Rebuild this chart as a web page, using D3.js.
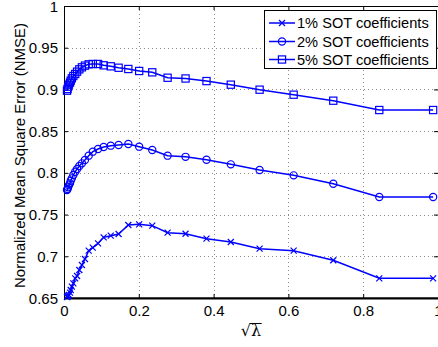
<!DOCTYPE html>
<html>
<head>
<meta charset="utf-8">
<script src="https://cdn.jsdelivr.net/npm/d3@7"></script>
<style>
  html, body { margin: 0; padding: 0; background: #fff; }
  svg { display: block; }
  text { font-family: "Liberation Sans", Arial, sans-serif; fill: #000; }
</style>
</head>
<body>
<svg id="chart" width="438" height="347"></svg>
<script>
// sqrt(lambda) sample positions, shared by all three curves
const sqrtLambda = [0.987, 0.843, 0.72, 0.614, 0.523, 0.446, 0.381, 0.325, 0.277, 0.236,
  0.201, 0.172, 0.146, 0.125, 0.106, 0.091, 0.077, 0.066, 0.056, 0.048,
  0.041, 0.035, 0.030, 0.025, 0.021, 0.018, 0.016, 0.013, 0.011, 0.0095, 0.008];

const nmse1 = [0.6736, 0.6736, 0.6952, 0.7067, 0.7091, 0.7171, 0.7211, 0.7270, 0.7283, 0.7367,
  0.7383, 0.7375, 0.7267, 0.7247, 0.7227, 0.7155, 0.7103, 0.7067, 0.6967, 0.6895,
  0.6836, 0.6764, 0.6736, 0.6676, 0.6636, 0.6596, 0.6564, 0.6536, 0.6525, 0.6520, 0.6510];

const nmse2 = [0.7711, 0.7711, 0.7870, 0.7970, 0.8034, 0.8102, 0.8158, 0.8192, 0.8206, 0.8274,
  0.8314, 0.8346, 0.8334, 0.8326, 0.8310, 0.8286, 0.8254, 0.8206, 0.8154, 0.8114,
  0.8082, 0.8046, 0.8014, 0.7974, 0.7934, 0.7906, 0.7874, 0.7850, 0.7826, 0.7806, 0.7794];

const nmse5 = [0.8753, 0.8753, 0.8865, 0.8937, 0.8997, 0.9057, 0.9100, 0.9131, 0.9140, 0.9205,
  0.9221, 0.9245, 0.9260, 0.9277, 0.9289, 0.9305, 0.9305, 0.9301, 0.9285, 0.9265,
  0.9241, 0.9213, 0.9185, 0.9161, 0.9133, 0.9105, 0.9081, 0.9057, 0.9033, 0.9005, 0.8985];

const seriesNames = ["1% SOT coefficients", "2% SOT coefficients", "5% SOT coefficients"];
const seriesMarkers = ["x", "circle", "square"];
const xTicks = [0, 0.2, 0.4, 0.6, 0.8, 1];
const yTicks = [0.65, 0.7, 0.75, 0.8, 0.85, 0.9, 0.95, 1];

const series = [nmse1, nmse2, nmse5].map((vals, i) => ({
  name: seriesNames[i],
  marker: seriesMarkers[i],
  points: vals.map((v, j) => ({ x: sqrtLambda[j], y: v }))
}));

const blue = "#0000ff";
const svg = d3.select("#chart");
const m = { left: 64, right: 438, top: 6, bottom: 298 };

const x = d3.scaleLinear().domain([0, 1]).range([m.left, m.right]);
const y = d3.scaleLinear().domain([0.65, 1]).range([m.bottom, m.top]);

// dotted grid
const grid = svg.append("g").attr("stroke", "#8c8c8c").attr("stroke-width", 1)
  .attr("stroke-dasharray", "1,3");
xTicks.slice(1, -1).forEach(t => {
  grid.append("line").attr("x1", Math.round(x(t)) + 0.5).attr("x2", Math.round(x(t)) + 0.5)
    .attr("y1", m.top).attr("y2", m.bottom);
});
yTicks.slice(1, -1).forEach(t => {
  grid.append("line").attr("y1", Math.round(y(t)) + 0.5).attr("y2", Math.round(y(t)) + 0.5)
    .attr("x1", m.left).attr("x2", m.right);
});

// axes: labels outside, short ticks pointing inwards on all four sides
const fmt = d => (d === 0 || d === 1) ? String(d) : String(+d.toFixed(2));
const tickLen = 4;
const xAxis = d3.axisBottom(x).tickValues(xTicks).tickFormat(fmt).tickSize(-tickLen).tickPadding(7);
const yAxis = d3.axisLeft(y).tickValues(yTicks).tickFormat(fmt).tickSize(-tickLen).tickPadding(6);
const xTop = d3.axisTop(x).tickValues(xTicks).tickFormat("").tickSize(-tickLen);
const yRight = d3.axisRight(y).tickValues(yTicks).tickFormat("").tickSize(-tickLen);

function styleAxis(g) {
  g.select(".domain").remove();
  g.selectAll(".tick line").attr("stroke", "#000");
  g.selectAll(".tick text").style("font-size", "15px").attr("fill", "#000")
    .style("font-family", '"Liberation Sans", Arial, sans-serif');
}
svg.append("g").attr("transform", `translate(0,${m.bottom})`).call(xAxis).call(styleAxis)
  .selectAll(".tick text").attr("dy", "0.72em");
svg.append("g").attr("transform", `translate(${m.left},0)`).call(yAxis).call(styleAxis)
  .selectAll(".tick text").attr("dy", "0.34em");
svg.append("g").attr("transform", `translate(0,${m.top})`).call(xTop).call(styleAxis);
svg.append("g").attr("transform", `translate(${m.right},0)`).call(yRight).call(styleAxis);

// axes box
svg.append("rect").attr("x", m.left + 0.5).attr("y", m.top + 0.5)
  .attr("width", m.right - m.left).attr("height", m.bottom - m.top - 0.5)
  .attr("fill", "none").attr("stroke", "#000").attr("stroke-width", 1);
svg.append("line").attr("x1", m.left).attr("x2", m.right)
  .attr("y1", m.bottom + 0.5).attr("y2", m.bottom + 0.5)
  .attr("stroke", "#000").attr("stroke-width", 2);

// marker drawing
function drawMarker(g, kind, cx, cy) {
  if (kind === "x") {
    const s = 3;
    g.append("path").attr("d", `M${cx - s},${cy - s}L${cx + s},${cy + s}M${cx - s},${cy + s}L${cx + s},${cy - s}`)
      .attr("stroke", blue).attr("stroke-width", 1.2).attr("fill", "none");
  } else if (kind === "circle") {
    g.append("circle").attr("cx", cx).attr("cy", cy).attr("r", 3.6)
      .attr("stroke", blue).attr("stroke-width", 1.2).attr("fill", "none");
  } else {
    const s = 3.6;
    g.append("rect").attr("x", cx - s).attr("y", cy - s).attr("width", 2 * s).attr("height", 2 * s)
      .attr("stroke", blue).attr("stroke-width", 1.2).attr("fill", "none");
  }
}

const line = d3.line().x(d => x(d.x)).y(d => y(d.y));
const plot = svg.append("g");
series.forEach(s => {
  plot.append("path").datum(s.points).attr("d", line)
    .attr("fill", "none").attr("stroke", blue).attr("stroke-width", 1.5);
  const mg = plot.append("g");
  s.points.forEach(p => drawMarker(mg, s.marker, x(p.x), y(p.y)));
});

// legend
const lg = svg.append("g");
lg.append("rect").attr("x", 264.5).attr("y", 10.5).attr("width", 172).attr("height", 58)
  .attr("fill", "#fff").attr("stroke", "#000").attr("stroke-width", 1);
const rowY = [23, 41.5, 59.5];
series.forEach((s, i) => {
  lg.append("line").attr("x1", 269).attr("x2", 295).attr("y1", rowY[i]).attr("y2", rowY[i])
    .attr("stroke", blue).attr("stroke-width", 1.5);
  drawMarker(lg, s.marker, 282, rowY[i]);
  lg.append("text").attr("x", 297).attr("y", rowY[i]).attr("dy", "0.36em")
    .style("font-size", "14.6px").text(s.name);
});

// y axis title
svg.append("text")
  .attr("transform", "translate(25,155.5) rotate(-90)")
  .attr("text-anchor", "middle").style("font-size", "15px")
  .text("Normalized Mean Square Error (NMSE)");

// x axis title: radical with a bar over lambda
const xt = svg.append("text").attr("x", 251).attr("y", 336).attr("text-anchor", "middle")
  .style("font-family", '"DejaVu Serif", serif').style("font-size", "16px");
xt.append("tspan").text("\u221A");
xt.append("tspan").text("\u03BB");
const node = xt.node();
const total = node.getComputedTextLength();
const rootW = node.getSubStringLength(0, 1);
const x0 = 251 - total / 2;
const bb = node.getBBox();
svg.append("line")
  .attr("x1", x0 + rootW - 0.8).attr("x2", x0 + total + 0.5)
  .attr("y1", bb.y + 2.5).attr("y2", bb.y + 2.5)
  .attr("stroke", "#000").attr("stroke-width", 1);
</script>
</body>
</html>
